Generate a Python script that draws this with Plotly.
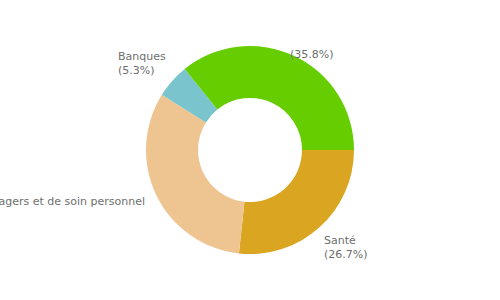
import math
import plotly.graph_objects as go

categories = ["Santé", "Produits ménagers et de soin personnel", "Banques", "Autres"]
values = [26.7, 32.2, 5.3, 35.8]
label_texts = ["Santé<br>(26.7%)", "Produits ménagers et de soin personnel", "Banques<br>(5.3%)", "(35.8%)"]
colors = ["#DAA520", "#EEC591", "#7AC5CD", "#66CD00"]

W, H = 500, 300
cx, cy, R = 250, 150, 104
start_deg = 90  # clockwise from 12 o'clock

fig = go.Figure(go.Pie(
    labels=categories,
    values=values,
    textinfo="none",
    hole=0.5,
    sort=False,
    direction="clockwise",
    rotation=start_deg,
    marker=dict(colors=colors, line=dict(width=0)),
    showlegend=False,
    domain=dict(x=[(cx - R) / W, (cx + R) / W], y=[1 - (cy + R) / H, 1 - (cy - R) / H]),
))

# label placement derived from slice mid-angles
total = sum(values)
label_r = R + 11
shifts = [(-5, 4), (0, -1), (4, -5), (-12, 0)]
annotations = []
cum = 0.0
for txt, v, (dx, dy) in zip(label_texts, values, shifts):
    mid = math.radians(start_deg + 360 * (cum + v / 2) / total)
    cum += v
    px = cx + label_r * math.sin(mid)
    py = cy - label_r * math.cos(mid)
    right = math.sin(mid) >= 0
    lower = math.cos(mid) < 0
    single = "<br>" not in txt
    if single and not right:
        yanch = "middle"
    elif single:
        yanch = "top"
    else:
        yanch = "top" if lower else "bottom"
    annotations.append(dict(
        x=px / W, y=1 - py / H, xref="paper", yref="paper",
        text=txt, showarrow=False, align="left",
        xanchor="left" if right else "right",
        yanchor=yanch,
        xshift=dx, yshift=dy,
        font=dict(family="DejaVu Sans", size=11, color="#6e6e6e"),
    ))

fig.update_layout(
    width=W, height=H,
    margin=dict(l=0, r=0, t=0, b=0),
    paper_bgcolor="white",
    plot_bgcolor="white",
    annotations=annotations,
)
fig.write_html("out.html")
